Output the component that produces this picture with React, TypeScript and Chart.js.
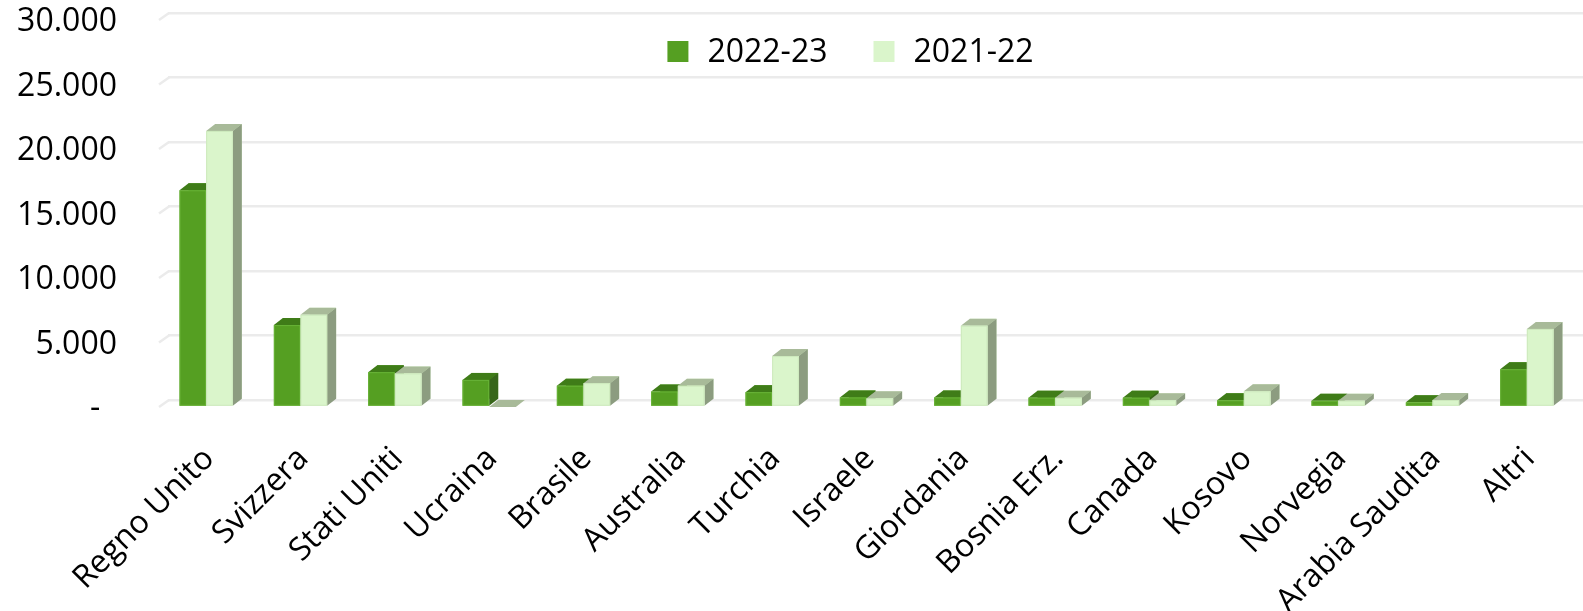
import { useEffect, useRef } from 'react';
import { Chart, registerables } from 'chart.js';

Chart.register(...registerables);

// ---- data ----
const categories = [
  'Regno Unito', 'Svizzera', 'Stati Uniti', 'Ucraina', 'Brasile', 'Australia', 'Turchia',
  'Israele', 'Giordania', 'Bosnia Erz.', 'Canada', 'Kosovo', 'Norvegia', 'Arabia Saudita', 'Altri',
];
const seriesLabels = ['2022-23', '2021-22'];
const values2223 = [16800, 6350, 2700, 2100, 1650, 1200, 1150, 740, 740, 720, 720, 520, 480, 360, 2930];
const values2122 = [21400, 7150, 2600, 0, 1850, 1650, 3950, 670, 6300, 720, 520, 1220, 490, 540, 6050];
const yMin = 0;
const yMax = 30000;
const yStep = 5000;

// ---- styles ----
const FACES = [
  { front: '#559f22', top: '#3f7c18', side: '#37661a', stroke: '#68b337' },
  { front: '#daf5cb', top: '#a8ba99', side: '#8c9c80', stroke: '#cde9bd' },
];
const DEPTH_X = 9;
const DEPTH_Y = 7;
const GRID_COLOR = '#ebebeb';
const FONT = '"Open Sans", "DejaVu Sans", sans-serif';

const fmt = (v: number) =>
  v === 0 ? '-  ' : String(v).replace(/\B(?=(\d{3})+(?!\d))/g, '.');

const wallPlugin = {
  id: 'wall',
  beforeDatasetsDraw(chart: any) {
    const { ctx, chartArea } = chart;
    const y = chart.scales.y;
    ctx.save();
    ctx.strokeStyle = GRID_COLOR;
    ctx.lineWidth = 2.5;
    y.ticks.forEach((t: any) => {
      const py = y.getPixelForValue(t.value);
      ctx.beginPath();
      ctx.moveTo(chartArea.left + 1, py);
      ctx.lineTo(chartArea.left - DEPTH_X, py + DEPTH_Y);
      ctx.stroke();
    });
    ctx.restore();
  },
};

const box3dPlugin = {
  id: 'box3d',
  afterDatasetsDraw(chart: any) {
    const ctx = chart.ctx;
    const n = chart.data.labels.length;
    const metas = chart.data.datasets.map((_: any, i: number) => chart.getDatasetMeta(i));
    const poly = (pts: number[][], fill: string) => {
      ctx.beginPath();
      ctx.moveTo(pts[0][0], pts[0][1]);
      for (let k = 1; k < pts.length; k++) ctx.lineTo(pts[k][0], pts[k][1]);
      ctx.closePath();
      ctx.fillStyle = fill;
      ctx.fill();
    };
    ctx.save();
    for (let i = 0; i < n; i++) {
      metas.forEach((meta: any, d: number) => {
        const el = meta.data[i];
        if (!el) return;
        const { x, y, base, width } = el.getProps(['x', 'y', 'base', 'width'], true);
        const st = FACES[d];
        const x0 = x - width / 2;
        const x1 = x + width / 2;
        // top face
        poly([[x0 - DEPTH_X, y + DEPTH_Y], [x1 - DEPTH_X, y + DEPTH_Y], [x1, y], [x0, y]], st.top);
        if (base - y > 0.01) {
          // side face
          poly([[x1 - DEPTH_X, y + DEPTH_Y], [x1, y], [x1, base], [x1 - DEPTH_X, base + DEPTH_Y]], st.side);
          // front face
          ctx.fillStyle = st.front;
          ctx.fillRect(x0 - DEPTH_X, y + DEPTH_Y, width, base - y);
          ctx.strokeStyle = st.stroke;
          ctx.lineWidth = 1;
          ctx.strokeRect(x0 - DEPTH_X + 0.5, y + DEPTH_Y + 0.5, width - 1, base - y - 1);
        }
      });
    }
    ctx.restore();
  },
};

const legendPlugin = {
  id: 'topLegend',
  afterDraw(chart: any) {
    const ctx = chart.ctx;
    const size = 32;
    const box = 21;
    const gapBoxText = 19;
    const gapItems = 46;
    const centerX = 850.5;
    const boxTop = 41;
    const baseline = 61.7;
    ctx.save();
    ctx.font = `${size}px ${FONT}`;
    const items = chart.data.datasets.map((ds: any, i: number) => ({
      text: ds.label as string,
      color: FACES[i].front,
      w: ctx.measureText(ds.label).width,
    }));
    const total = items.reduce((s: number, it: any) => s + box + gapBoxText + it.w, 0) + gapItems * (items.length - 1);
    let x = centerX - total / 2;
    items.forEach((it: any) => {
      ctx.fillStyle = it.color;
      ctx.fillRect(x, boxTop, box, box);
      x += box + gapBoxText;
      ctx.fillStyle = '#000';
      ctx.textAlign = 'left';
      ctx.textBaseline = 'alphabetic';
      ctx.fillText(it.text, x, baseline);
      x += it.w + gapItems;
    });
    ctx.restore();
  },
};

export default function App() {
  const ref = useRef<HTMLCanvasElement | null>(null);

  useEffect(() => {
    if (!ref.current) return;
    const chart = new Chart(ref.current, {
      type: 'bar',
      data: {
        labels: categories,
        datasets: [
          { label: seriesLabels[0], data: values2223, backgroundColor: FACES[0].front },
          { label: seriesLabels[1], data: values2122, backgroundColor: FACES[1].front },
        ],
      },
      options: {
        responsive: false,
        animation: false,
        layout: { padding: { top: 13, right: 0, bottom: 0, left: 0 } },
        datasets: { bar: { barPercentage: 1, categoryPercentage: 0.565 } },
        plugins: { legend: { display: false }, tooltip: { enabled: false } },
        scales: {
          x: {
            grid: { display: false, drawTicks: false },
            border: { display: false },
            ticks: {
              autoSkip: false,
              maxRotation: 45,
              minRotation: 45,
              padding: 40,
              labelOffset: -6,
              color: '#000',
              font: { family: FONT, size: 32 },
            },
            afterFit: (s: any) => {
              s.height = 211;
              s.paddingLeft = 0;
              s.paddingRight = 0;
            },
          },
          y: {
            min: yMin,
            max: yMax,
            grid: { color: GRID_COLOR, lineWidth: 2.5, drawTicks: false },
            border: { display: false },
            ticks: {
              stepSize: yStep,
              padding: 51,
              labelOffset: 9,
              color: '#000',
              font: { family: FONT, size: 32 },
              callback: (v: any) => fmt(Number(v)),
            },
            afterFit: (s: any) => {
              s.width = 168;
              s.paddingTop = 0;
              s.paddingBottom = 0;
            },
          },
        },
      },
      plugins: [wallPlugin, box3dPlugin, legendPlugin],
    });
    return () => chart.destroy();
  }, []);

  return (
    <div style={{ position: 'absolute', left: 0, top: 0, width: 1583, height: 611, background: '#fff' }}>
      <canvas ref={ref} width={1583} height={611} style={{ display: 'block' }} />
    </div>
  );
}
